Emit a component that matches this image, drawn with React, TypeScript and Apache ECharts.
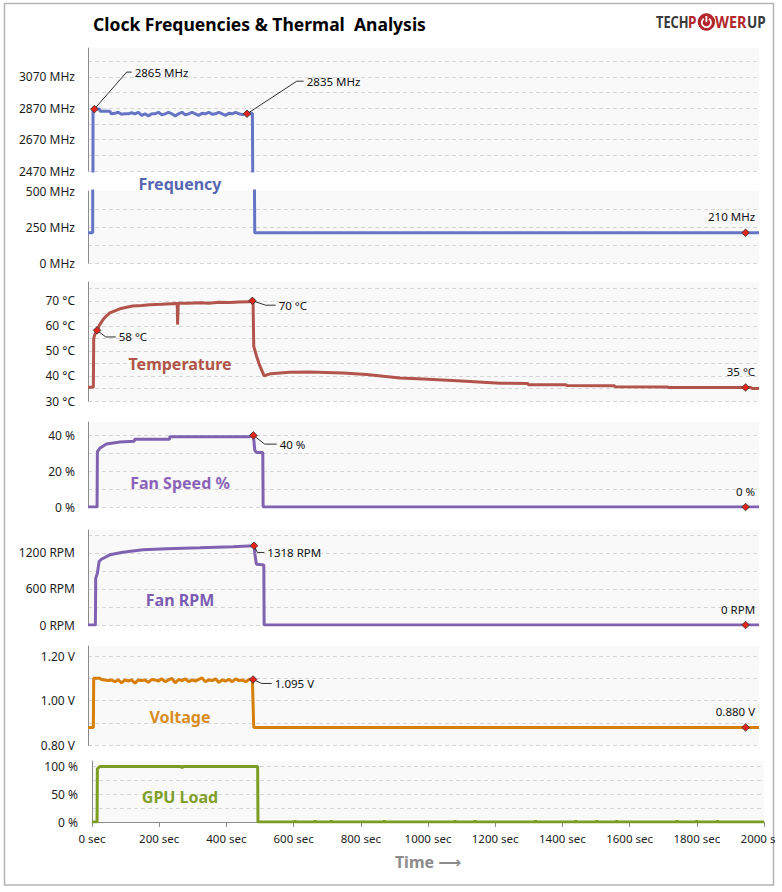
import React, { useEffect, useRef } from 'react';
import * as echarts from 'echarts';

const FONT = '"Noto Sans", "DejaVu Sans", sans-serif';

// ---------- data ----------
const freqTime = [0, 14, 15, 35, 36, 65, 70, 80, 90, 100, 110, 120, 130, 140, 150, 160, 170, 180, 190, 200, 210, 220, 230, 240, 250, 260, 270, 280, 290, 300, 310, 320, 330, 340, 350, 360, 370, 380, 390, 400, 410, 420, 430, 440, 450, 460, 470, 480, 490, 492, 497, 2000];
const freqMHz = [210, 210, 2865, 2865, 2851, 2851, 2835, 2838, 2845, 2832, 2835, 2835, 2842, 2835, 2845, 2825, 2835, 2822, 2835, 2835, 2845, 2828, 2835, 2845, 2835, 2822, 2835, 2845, 2828, 2835, 2845, 2835, 2825, 2838, 2835, 2845, 2832, 2835, 2845, 2835, 2825, 2838, 2835, 2845, 2835, 2830, 2835, 2835, 2838, 2838, 210, 210];
const freqNoteTopTime = [19, 474];
const freqNoteTopMHz = [2865, 2835];
const freqNoteTopText = ['2865 MHz', '2835 MHz'];
const freqNoteBottomTime = [1960];
const freqNoteBottomMHz = [210];
const freqNoteBottomText = ['210 MHz'];

const tempTime = [0, 16, 17, 20, 27, 35, 45, 55, 65, 80, 95, 115, 133, 160, 184, 220, 250, 266, 267, 269, 300, 333, 360, 390, 423, 450, 482, 490, 492, 494, 502, 512, 525, 545, 600, 660, 760, 830, 930, 1000, 1100, 1229, 1311, 1313, 1425, 1427, 1569, 1571, 1728, 1730, 1975, 1980, 2000];
const tempC = [35.5, 35.5, 54.8, 56.5, 58.2, 60.5, 62.5, 64.0, 65.2, 66.0, 66.8, 67.4, 67.9, 68.1, 68.4, 68.6, 68.8, 68.9, 60.5, 69.0, 69.0, 69.2, 69.0, 69.4, 69.3, 69.5, 69.6, 70.0, 69.6, 51.8, 48.1, 44.1, 40.0, 40.9, 41.5, 41.6, 41.2, 40.6, 39.2, 38.8, 38.1, 37.1, 37.0, 36.5, 36.5, 36.2, 36.1, 35.7, 35.6, 35.4, 35.4, 35.0, 35.0];
const tempNoteTime = [27, 490, 1960];
const tempNoteC = [58.2, 70.0, 35.4];
const tempNoteText = ['58 °C', '70 °C', '35 °C'];

const fanTime = [0, 27, 28, 35, 55, 95, 138, 139, 243, 244, 482, 493, 497, 502, 521, 522, 2000];
const fanPct = [0, 0, 30.9, 32.8, 35.2, 36.3, 36.7, 37.8, 37.8, 39.3, 39.3, 40, 31.8, 30.5, 30.5, 0, 0];
const fanNoteTime = [493, 1960];
const fanNotePct = [40, 0];
const fanNoteText = ['40 %', '0 %'];

const rpmTime = [0, 22, 23, 28, 33, 40, 65, 104, 164, 234, 333, 432, 495, 497, 502, 524, 525, 2000];
const rpmVal = [0, 0, 778, 861, 1056, 1094, 1167, 1211, 1250, 1267, 1283, 1300, 1318, 1194, 1011, 1000, 0, 0];
const rpmNoteTime = [495, 1960];
const rpmNoteVal = [1318, 0];
const rpmNoteText = ['1318 RPM', '0 RPM'];

const voltTime = [0, 16, 17, 35, 40, 50, 60, 70, 80, 90, 100, 110, 120, 130, 140, 150, 160, 170, 180, 190, 200, 210, 220, 230, 240, 250, 260, 270, 280, 290, 300, 310, 320, 330, 340, 350, 360, 370, 380, 390, 400, 410, 420, 430, 440, 450, 460, 470, 480, 490, 492, 494, 2000];
const voltV = [0.88, 0.88, 1.10, 1.10, 1.095, 1.093, 1.090, 1.093, 1.085, 1.093, 1.080, 1.093, 1.088, 1.093, 1.078, 1.093, 1.090, 1.093, 1.082, 1.095, 1.093, 1.088, 1.098, 1.085, 1.093, 1.100, 1.080, 1.095, 1.090, 1.098, 1.085, 1.093, 1.088, 1.095, 1.102, 1.085, 1.093, 1.090, 1.098, 1.082, 1.093, 1.088, 1.095, 1.085, 1.098, 1.090, 1.093, 1.085, 1.095, 1.095, 1.095, 0.88, 0.88];
const voltNoteTime = [492, 1960];
const voltNoteV = [1.095, 0.88];
const voltNoteText = ['1.095 V', '0.880 V'];

const loadTime = [0, 15, 16, 23, 266, 268, 270, 493, 494, 602, 604, 606, 662, 664, 666, 710, 712, 714, 868, 870, 872, 1078, 1080, 1082, 1138, 1140, 1142, 1318, 1320, 1322, 1438, 1440, 1442, 1500, 1502, 1504, 1560, 1562, 1564, 1739, 1741, 1743, 1798, 1800, 1802, 1860, 1862, 1864, 2000];
const loadPct = [0, 0, 96, 100, 100, 97, 100, 100, 0, 0, 2, 0, 0, 2, 0, 0, 2, 0, 0, 2, 0, 0, 2, 0, 0, 2, 0, 0, 2, 0, 0, 2, 0, 0, 2, 0, 0, 2, 0, 0, 2, 0, 0, 2, 0, 0, 2, 0, 0];

const panelNames = ['Frequency', 'Temperature', 'Fan Speed %', 'Fan RPM', 'Voltage', 'GPU Load'];

// ---------- styles / layout ----------
const COLORS = {
  freq: '#6575c4',
  temp: '#b3544c',
  fan: '#8062b0',
  volt: '#d77f0a',
  load: '#7a9d22',
};
const LABEL_COLORS = ['#5567b0', '#b05548', '#8a63b8', '#7b5cb3', '#d88c1e', '#7f9f2a'];
const LABEL_Y = [184, 364, 483, 600, 717, 797];

// label offsets [dx, dy, leaderHorizontalLength] or null for end labels
const freqTopOffs = [[40.3, -37, 5], [59.7, -32.6, 7]];
const tempOffs = [[21.7, 6.6, 10], [26.3, 4.4, 10], null];
const fanOffs = [[26.3, 8.7, 12], null];
const rpmOffs = [[13.3, 6.7, 7], null];
const voltOffs = [[21.7, 4, 10], null];

const pairs = (t: number[], v: number[]) => t.map((x, i) => [x, v[i]]);

function lineSeries(idx: number, t: number[], v: number[], color: string) {
  return {
    type: 'line',
    xAxisIndex: idx,
    yAxisIndex: idx,
    data: pairs(t, v),
    showSymbol: false,
    symbol: 'none',
    clip: true,
    silent: true,
    z: 3,
    lineStyle: { color, width: 3 },
  };
}

function noteSeries(idx: number, t: number[], v: number[], texts: string[], offs: any[]) {
  return {
    type: 'custom',
    coordinateSystem: 'cartesian2d',
    xAxisIndex: idx,
    yAxisIndex: idx,
    data: pairs(t, v),
    encode: { x: 0, y: 1 },
    clip: false,
    silent: true,
    z: 10,
    renderItem: (params: any, api: any) => {
      const i = params.dataIndex;
      const p = api.coord([api.value(0), api.value(1)]);
      const x = p[0];
      const y = p[1];
      const o = offs[i];
      const children: any[] = [];
      const ts = { fontSize: 11.5, fontFamily: FONT, fill: '#111' };
      if (o) {
        const lx = x + o[0];
        const ly = y + o[1];
        children.push({
          type: 'polyline',
          shape: { points: [[x, y], [lx - 3 - o[2], ly], [lx - 3, ly]] },
          style: { stroke: '#1a1a1a', lineWidth: 0.9, fill: null },
        });
        children.push({
          type: 'text',
          x: lx,
          y: ly,
          style: { ...ts, text: texts[i], textAlign: 'left', align: 'left', textVerticalAlign: 'middle', verticalAlign: 'middle' },
        });
      } else {
        children.push({
          type: 'text',
          x: x + 9.5,
          y: y - 16,
          style: { ...ts, text: texts[i], textAlign: 'right', align: 'right', textVerticalAlign: 'middle', verticalAlign: 'middle' },
        });
      }
      children.push({
        type: 'polygon',
        shape: { points: [[x, y - 3.8], [x + 3.8, y], [x, y + 3.8], [x - 3.8, y]] },
        style: { fill: '#e3251c', stroke: '#333', lineWidth: 0.8 },
      });
      return { type: 'group', children };
    },
  };
}

function yAxis(idx: number, min: number, max: number, interval: number, fmt: (v: number) => string, margin = 13) {
  return {
    type: 'value',
    gridIndex: idx,
    min,
    max,
    interval,
    axisLine: { show: true, lineStyle: { color: '#8c8c8c', width: 1 } },
    axisTick: { show: false },
    splitLine: { show: true, showMaxLine: false, lineStyle: { color: '#d6d6d6', type: [4, 3], width: 1 } },
    axisLabel: { fontFamily: FONT, fontSize: 12, color: '#1e1e1e', margin, formatter: fmt },
  };
}

const gridBase = { show: true, backgroundColor: '#f9f9f9', borderWidth: 0, containLabel: false, outerBoundsMode: 'none' };
const near = (a: number, b: number) => Math.abs(a - b) < 1e-6;

function buildOption() {
  const grids = [
    { ...gridBase, left: 88, right: 23, top: 48, height: 123 },
    { ...gridBase, left: 88, right: 23, top: 191, height: 72 },
    { ...gridBase, left: 88, right: 23, top: 282, height: 119 },
    { ...gridBase, left: 88, right: 23, top: 422, height: 85 },
    { ...gridBase, left: 88, right: 23, top: 530, height: 95 },
    { ...gridBase, left: 88, right: 23, top: 646, height: 99.3 },
    { ...gridBase, left: 92, right: 18, top: 761, height: 61 },
  ];
  const xAxes: any[] = [];
  for (let i = 0; i < 6; i++) {
    xAxes.push({ type: 'value', gridIndex: i, min: 0, max: 2000, show: false });
  }
  xAxes.push({
    type: 'value',
    gridIndex: 6,
    min: 0,
    max: 2000,
    interval: 200,
    axisLine: { show: true, lineStyle: { color: '#8c8c8c' } },
    axisTick: { show: true, length: 5, lineStyle: { color: '#8c8c8c' } },
    splitLine: { show: false },
    axisLabel: { fontFamily: FONT, fontSize: 11.5, color: '#222', margin: 10, formatter: (v: number) => `${v} sec` },
    name: 'Time \u27f6',
    nameLocation: 'middle',
    nameGap: 32,
    nameTextStyle: { fontFamily: FONT, fontSize: 16, fontWeight: 'bold', color: '#8c8c8c' },
  });

  const yAxes = [
    yAxis(0, 2470, 3255, 100, (v) => (near((v - 2470) % 200, 0) ? `${v} MHz` : '')),
    yAxis(1, 0, 500, 125, (v) => (near(v % 250, 0) ? `${v} MHz` : '')),
    yAxis(2, 30, 77.5, 5, (v) => (near(v % 10, 0) ? `${v} °C` : '')),
    yAxis(3, 0, 47.5, 10, (v) => (near(v % 20, 0) ? `${v} %` : '')),
    yAxis(4, 0, 1580, 300, (v) => (near(v % 600, 0) ? `${v} RPM` : '')),
    yAxis(5, 0.8, 1.245, 0.1, (v) => (Math.round(v * 100) % 20 === 0 ? `${v.toFixed(2)} V` : '')),
    yAxis(6, 0, 110, 25, (v) => (near(v % 50, 0) ? `${v} %` : ''), 14),
  ];

  const series: any[] = [
    lineSeries(0, freqTime, freqMHz, COLORS.freq),
    lineSeries(1, freqTime, freqMHz, COLORS.freq),
    lineSeries(2, tempTime, tempC, COLORS.temp),
    lineSeries(3, fanTime, fanPct, COLORS.fan),
    lineSeries(4, rpmTime, rpmVal, COLORS.fan),
    lineSeries(5, voltTime, voltV, COLORS.volt),
    lineSeries(6, loadTime, loadPct, COLORS.load),
    noteSeries(0, freqNoteTopTime, freqNoteTopMHz, freqNoteTopText, freqTopOffs),
    noteSeries(1, freqNoteBottomTime, freqNoteBottomMHz, freqNoteBottomText, [null]),
    noteSeries(2, tempNoteTime, tempNoteC, tempNoteText, tempOffs),
    noteSeries(3, fanNoteTime, fanNotePct, fanNoteText, fanOffs),
    noteSeries(4, rpmNoteTime, rpmNoteVal, rpmNoteText, rpmOffs),
    noteSeries(5, voltNoteTime, voltNoteV, voltNoteText, voltOffs),
  ];

  const logoText = (text: string, x: number, fill: string, sx: number) => ({
    type: 'text',
    x,
    y: 22,
    scaleX: sx,
    z: 20,
    style: {
      text,
      fill,
      fontSize: 16,
      fontWeight: 'bold',
      fontFamily: FONT,
      textAlign: 'left',
      align: 'left',
      textVerticalAlign: 'middle',
      verticalAlign: 'middle',
    },
  });

  const graphic: any[] = [
    {
      type: 'rect',
      shape: { x: 4.5, y: 3.5, width: 769, height: 881.5 },
      style: { fill: 'transparent', stroke: '#b3b3b3', lineWidth: 1.5 },
      z: 0,
      silent: true,
    },
    {
      type: 'text',
      x: 93,
      y: 24,
      z: 20,
      style: {
        text: 'Clock Frequencies & Thermal  Analysis',
        fill: '#000',
        fontSize: 17.5,
        fontWeight: 'bold',
        fontFamily: FONT,
        textVerticalAlign: 'middle',
        verticalAlign: 'middle',
      },
    },
    logoText('TECH', 656, '#3a3a3a', 0.8),
    logoText('P', 688, '#b3262b', 0.85),
    logoText('WER', 715, '#b3262b', 0.9),
    logoText('UP', 747, '#3a3a3a', 0.85),
    { type: 'circle', z: 20, shape: { cx: 706.4, cy: 22, r: 8.7 }, style: { fill: '#b3262b' } },
    {
      type: 'arc',
      z: 21,
      shape: { cx: 706.4, cy: 22.6, r: 4.6, startAngle: -Math.PI / 2 + 0.6, endAngle: Math.PI * 1.5 - 0.6, clockwise: true },
      style: { stroke: '#fff', lineWidth: 1.8, fill: null },
    },
    { type: 'line', z: 21, shape: { x1: 706.4, y1: 16, x2: 706.4, y2: 22 }, style: { stroke: '#fff', lineWidth: 1.8 } },
    ...panelNames.map((name, i) => ({
      type: 'text',
      x: 180,
      y: LABEL_Y[i],
      z: 20,
      style: {
        text: name,
        fill: LABEL_COLORS[i],
        fontSize: 16,
        fontWeight: 'bold',
        fontFamily: FONT,
        textAlign: 'center',
        align: 'center',
        textVerticalAlign: 'middle',
        verticalAlign: 'middle',
      },
    })),
    { type: 'rect', z: 100, shape: { x: 775.5, y: 0, width: 7, height: 892 }, style: { fill: '#fff' }, silent: true },
  ];

  return {
    animation: false,
    backgroundColor: '#fff',
    grid: grids,
    xAxis: xAxes,
    yAxis: yAxes,
    series,
    graphic,
  };
}

export default function App() {
  const ref = useRef<HTMLDivElement>(null);
  useEffect(() => {
    if (!ref.current) return;
    const chart = echarts.init(ref.current, null, { renderer: 'svg', width: 782, height: 892 });
    chart.setOption(buildOption() as any);
    return () => chart.dispose();
  }, []);
  return (
    <div
      ref={ref}
      style={{ position: 'fixed', left: 0, top: 0, width: 782, height: 892, background: '#fff' }}
    />
  );
}
